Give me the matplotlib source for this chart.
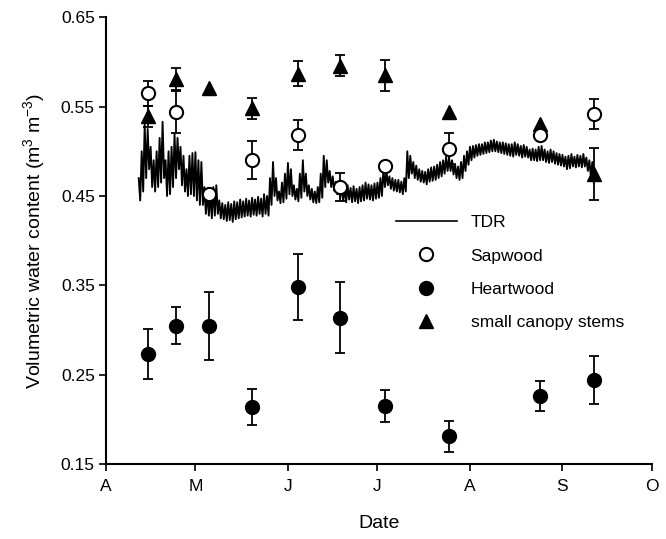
import numpy as np
import matplotlib
matplotlib.use("Agg")
import matplotlib.pyplot as plt
from matplotlib.lines import Line2D

plt.rcParams['font.family'] = ['Liberation Sans', 'DejaVu Sans']
plt.rcParams['mathtext.default'] = 'regular'

# sampling dates, days after 1 April
sample_day = [14.2, 23.6, 34.5, 48.8, 64.5, 78.5, 93.5, 115.0, 145.5, 163.7]

# nan = no error bar drawn in the original
sapwood = [0.565, 0.544, 0.452, 0.490, 0.518, 0.460, 0.484, 0.503, 0.518, 0.542]
sapwood_err = [0.014, 0.023, np.nan, 0.021, 0.017, 0.016, np.nan, 0.017, np.nan, 0.017]

heartwood = [0.273, 0.305, 0.305, 0.214, 0.348, 0.314, 0.215, 0.181, 0.226, 0.244]
heartwood_err = [0.028, 0.021, 0.038, 0.020, 0.037, 0.040, 0.018, 0.017, 0.017, 0.027]

stems = [0.539, 0.581, 0.571, 0.548, 0.587, 0.596, 0.585, 0.544, 0.531, 0.475]
stems_err = [0.012, 0.012, np.nan, 0.012, 0.014, 0.012, 0.017, np.nan, np.nan, 0.029]

# TDR record: daily upper / lower envelope, days 11..163
tdr_first_day = 11
tdr_hi = [0.470, 0.500, 0.530, 0.525, 0.505, 0.490, 0.500, 0.515, 0.533, 0.490,
          0.500, 0.505, 0.520, 0.515, 0.505, 0.495, 0.480, 0.495, 0.498, 0.499,
          0.490, 0.488, 0.460, 0.455, 0.452, 0.460, 0.462, 0.445, 0.442, 0.440,
          0.443, 0.441, 0.444, 0.443, 0.446, 0.444, 0.447, 0.445, 0.448, 0.446,
          0.449, 0.447, 0.452, 0.450, 0.470, 0.488, 0.470, 0.455, 0.465, 0.475,
          0.487, 0.480, 0.462, 0.458, 0.475, 0.490, 0.475, 0.462, 0.458, 0.455,
          0.460, 0.475, 0.495, 0.490, 0.478, 0.472, 0.466, 0.462, 0.460, 0.458,
          0.462, 0.459, 0.461, 0.458, 0.460, 0.462, 0.465, 0.463, 0.462, 0.464,
          0.465, 0.470, 0.480, 0.478, 0.472, 0.470, 0.468, 0.468, 0.466, 0.470,
          0.500, 0.495, 0.488, 0.484, 0.480, 0.478, 0.477, 0.480, 0.482, 0.483,
          0.485, 0.488, 0.490, 0.494, 0.493, 0.490, 0.486, 0.483, 0.488, 0.495,
          0.500, 0.505, 0.506, 0.507, 0.508, 0.508, 0.510, 0.510, 0.512, 0.513,
          0.511, 0.510, 0.510, 0.509, 0.508, 0.508, 0.510, 0.508, 0.506, 0.507,
          0.505, 0.502, 0.503, 0.502, 0.505, 0.506, 0.502, 0.500, 0.502, 0.500,
          0.498, 0.497, 0.496, 0.494, 0.495, 0.497, 0.494, 0.496, 0.495, 0.497,
          0.493, 0.490, 0.488]
tdr_lo = [0.445, 0.455, 0.470, 0.480, 0.460, 0.455, 0.460, 0.465, 0.470, 0.450,
          0.452, 0.460, 0.470, 0.480, 0.462, 0.455, 0.450, 0.452, 0.450, 0.445,
          0.440, 0.440, 0.430, 0.428, 0.425, 0.428, 0.430, 0.425, 0.424, 0.422,
          0.423, 0.421, 0.424, 0.425, 0.426, 0.427, 0.428, 0.427, 0.429, 0.428,
          0.430, 0.427, 0.430, 0.428, 0.440, 0.450, 0.445, 0.442, 0.443, 0.447,
          0.452, 0.450, 0.446, 0.444, 0.448, 0.455, 0.450, 0.446, 0.443, 0.442,
          0.443, 0.448, 0.460, 0.465, 0.460, 0.456, 0.452, 0.448, 0.445, 0.443,
          0.446, 0.443, 0.444, 0.442, 0.444, 0.445, 0.447, 0.446, 0.445, 0.447,
          0.448, 0.450, 0.460, 0.462, 0.458, 0.456, 0.455, 0.454, 0.452, 0.455,
          0.470, 0.475, 0.470, 0.468, 0.466, 0.465, 0.463, 0.466, 0.467, 0.468,
          0.470, 0.472, 0.475, 0.478, 0.478, 0.474, 0.470, 0.468, 0.470, 0.478,
          0.485, 0.490, 0.493, 0.495, 0.496, 0.497, 0.498, 0.499, 0.500, 0.500,
          0.499, 0.498, 0.497, 0.496, 0.495, 0.494, 0.496, 0.495, 0.493, 0.494,
          0.493, 0.490, 0.490, 0.489, 0.490, 0.490, 0.488, 0.487, 0.488, 0.486,
          0.485, 0.484, 0.483, 0.480, 0.481, 0.483, 0.482, 0.483, 0.482, 0.483,
          0.478, 0.472, 0.465]

month_start = [0, 30, 61, 91, 122, 153, 183]
month_labels = ['A', 'M', 'J', 'J', 'A', 'S', 'O']

fig = plt.figure(figsize=(6.66, 5.39), dpi=100)
ax = fig.add_axes([0.159, 0.139, 0.820, 0.829])

# interleave envelope so the trace zigzags like the raw record
d = np.arange(tdr_first_day, tdr_first_day + len(tdr_hi))
tx = np.column_stack([d, d + 0.5]).ravel()
ty = np.column_stack([tdr_hi, tdr_lo]).ravel()
ax.plot(tx, ty, color='black', lw=1.35, zorder=2)

eb = dict(fmt='none', ecolor='black', elinewidth=1.3, capsize=3.6, capthick=1.3, zorder=3)
ax.errorbar(sample_day, sapwood, yerr=sapwood_err, **eb)
ax.errorbar(sample_day, heartwood, yerr=heartwood_err, **eb)
ax.errorbar(sample_day, stems, yerr=stems_err, **eb)

ax.plot(sample_day, stems, ls='none', marker='^', ms=9.5, mfc='black', mec='black', zorder=4)
ax.plot(sample_day, sapwood, ls='none', marker='o', ms=9.5, mfc='white', mec='black', mew=1.5, zorder=5)
ax.plot(sample_day, heartwood, ls='none', marker='o', ms=10, mfc='black', mec='black', zorder=5)

ax.set_xlim(0, 183)
ax.set_ylim(0.15, 0.65)
ax.set_xticks(month_start)
ax.set_xticklabels(month_labels)
ax.set_yticks([0.15, 0.25, 0.35, 0.45, 0.55, 0.65])
ax.set_yticklabels(['0.15', '0.25', '0.35', '0.45', '0.55', '0.65'])
ax.tick_params(direction='out', length=5, width=1.2, labelsize=12.5, pad=3)
ax.tick_params(axis='x', pad=6)
for s in ['top', 'right']:
    ax.spines[s].set_visible(False)
for s in ['left', 'bottom']:
    ax.spines[s].set_linewidth(1.5)

ax.set_xlabel('Date', fontsize=14, labelpad=15)
ax.set_ylabel('Volumetric water content (m$^3$ m$^{-3}$)', fontsize=14, labelpad=10)

handles = [
    Line2D([], [], color='black', lw=1.2),
    Line2D([], [], ls='none', marker='o', ms=9.5, mfc='white', mec='black', mew=1.5),
    Line2D([], [], ls='none', marker='o', ms=10, mfc='black', mec='black'),
    Line2D([], [], ls='none', marker='^', ms=9.5, mfc='black', mec='black'),
]
labels = ['TDR', 'Sapwood', 'Heartwood', 'small canopy stems']
fig.legend(handles, labels, loc='upper left', bbox_to_anchor=(396 / 666, 1 - 215 / 539),
           frameon=False, fontsize=12.5, handlelength=3.5, handletextpad=0.8,
           labelspacing=1.05, borderpad=0, borderaxespad=0)

fig.savefig('out.png', dpi=100)
